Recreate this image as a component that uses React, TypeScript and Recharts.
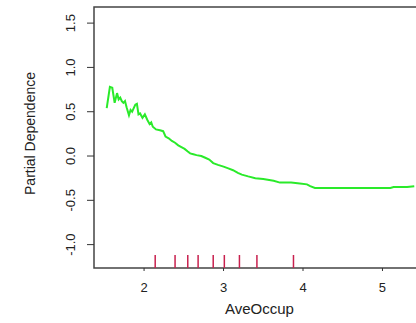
import {
  Label,
  Line,
  LineChart,
  ReferenceArea,
  ReferenceLine,
  XAxis,
  YAxis,
} from "recharts";

const occupancy = [
  1.53, 1.57, 1.6, 1.63, 1.66, 1.68, 1.7, 1.72, 1.74, 1.76, 1.78, 1.81, 1.83,
  1.85, 1.87, 1.89, 1.91, 1.93, 1.95, 1.98, 2.01, 2.04, 2.07, 2.09, 2.11, 2.15,
  2.2, 2.24, 2.27, 2.31, 2.35, 2.39, 2.43, 2.47, 2.51, 2.55, 2.58, 2.62, 2.66,
  2.72, 2.77, 2.82, 2.87, 2.93, 3.0, 3.06, 3.12, 3.18, 3.23, 3.31, 3.4, 3.5,
  3.63, 3.71, 3.85, 3.96, 4.05, 4.09, 4.15, 4.3, 4.5, 4.7, 4.9, 5.1, 5.14, 5.31,
  5.4,
];

const partialDep = [
  0.54, 0.78, 0.77, 0.6, 0.71, 0.64, 0.66, 0.62, 0.6, 0.62, 0.55, 0.46, 0.52,
  0.5, 0.54, 0.58, 0.59, 0.47, 0.48, 0.43, 0.47, 0.41, 0.36, 0.38, 0.33, 0.3,
  0.29, 0.28, 0.22, 0.2, 0.17, 0.15, 0.12, 0.1, 0.08, 0.05, 0.03, 0.02, 0.01,
  0.0, -0.02, -0.04, -0.08, -0.1, -0.12, -0.14, -0.16, -0.19, -0.21, -0.23,
  -0.25, -0.26, -0.28, -0.3, -0.3, -0.31, -0.32, -0.34, -0.36, -0.36, -0.36,
  -0.36, -0.36, -0.36, -0.35, -0.35, -0.34,
];

// deciles of AveOccup shown as rug marks
const rugDeciles = [2.14, 2.39, 2.55, 2.68, 2.87, 3.01, 3.2, 3.42, 3.88];

const xTicks = [2, 3, 4, 5];
const yTicks = [-1, -0.5, 0, 0.5, 1, 1.5];
const xDomain = [1.37, 5.535];
const yDomain = [-1.264, 1.682];
const rugTop = -1.117;

const data = occupancy.map((x, i) => ({ occup: x, pd: partialDep[i] }));

const font = "'Liberation Sans', Arial, sans-serif";

function YTick(props: any) {
  const { x, y, payload } = props;
  const tx = x - 10;
  return (
    <text
      x={tx}
      y={y}
      transform={`rotate(-90, ${tx}, ${y})`}
      textAnchor="middle"
      fontSize={13}
      fontFamily={font}
      fill="#222"
    >
      {payload.value.toFixed(1)}
    </text>
  );
}

function XTick(props: any) {
  const { x, y, payload } = props;
  return (
    <text
      x={x}
      y={y + 19}
      textAnchor="middle"
      fontSize={13}
      fontFamily={font}
      fill="#222"
    >
      {payload.value}
    </text>
  );
}

export default function App() {
  return (
    <div
      style={{
        position: "absolute",
        left: 0,
        top: 0,
        width: 416,
        height: 323,
        overflow: "hidden",
        background: "#fff",
      }}
    >
      <LineChart
        width={426}
        height={323}
        data={data}
        margin={{ top: 7, right: 1, left: 0, bottom: 0 }}
      >
        <XAxis
          type="number"
          dataKey="occup"
          domain={xDomain}
          ticks={xTicks}
          allowDataOverflow
          axisLine={false}
          tickSize={3}
          tickLine={{ stroke: "#333" }}
          tick={<XTick />}
          height={55}
        >
          <Label
            content={(p: any) => (
              <text
                x={p.viewBox.x + p.viewBox.width / 2}
                y={p.viewBox.y + 46}
                textAnchor="middle"
                fontSize={15}
                fontFamily={font}
                fill="#222"
              >
                AveOccup
              </text>
            )}
          />
        </XAxis>
        <YAxis
          type="number"
          domain={yDomain}
          ticks={yTicks}
          allowDataOverflow
          axisLine={false}
          tickSize={7}
          tickLine={{ stroke: "#333" }}
          tick={<YTick />}
          width={94}
        >
          <Label
            content={(p: any) => {
              const cx = p.viewBox.x + 35;
              const cy = p.viewBox.y + p.viewBox.height / 2 - 4;
              return (
                <text
                  x={cx}
                  y={cy}
                  transform={`rotate(-90, ${cx}, ${cy})`}
                  textAnchor="middle"
                  fontSize={14}
                  fontFamily={font}
                  fill="#222"
                >
                  Partial Dependence
                </text>
              );
            }}
          />
        </YAxis>
        <ReferenceArea
          x1={xDomain[0]}
          x2={xDomain[1]}
          y1={yDomain[0]}
          y2={yDomain[1]}
          fill="none"
          stroke="#444"
          strokeWidth={1.5}
        />
        {rugDeciles.map((v) => (
          <ReferenceLine
            key={v}
            segment={[
              { x: v, y: yDomain[0] },
              { x: v, y: rugTop },
            ]}
            stroke="#c8204e"
            strokeWidth={1.5}
          />
        ))}
        <Line
          type="linear"
          dataKey="pd"
          stroke="#2aea2a"
          strokeWidth={2}
          dot={false}
          isAnimationActive={false}
        />
      </LineChart>
    </div>
  );
}
